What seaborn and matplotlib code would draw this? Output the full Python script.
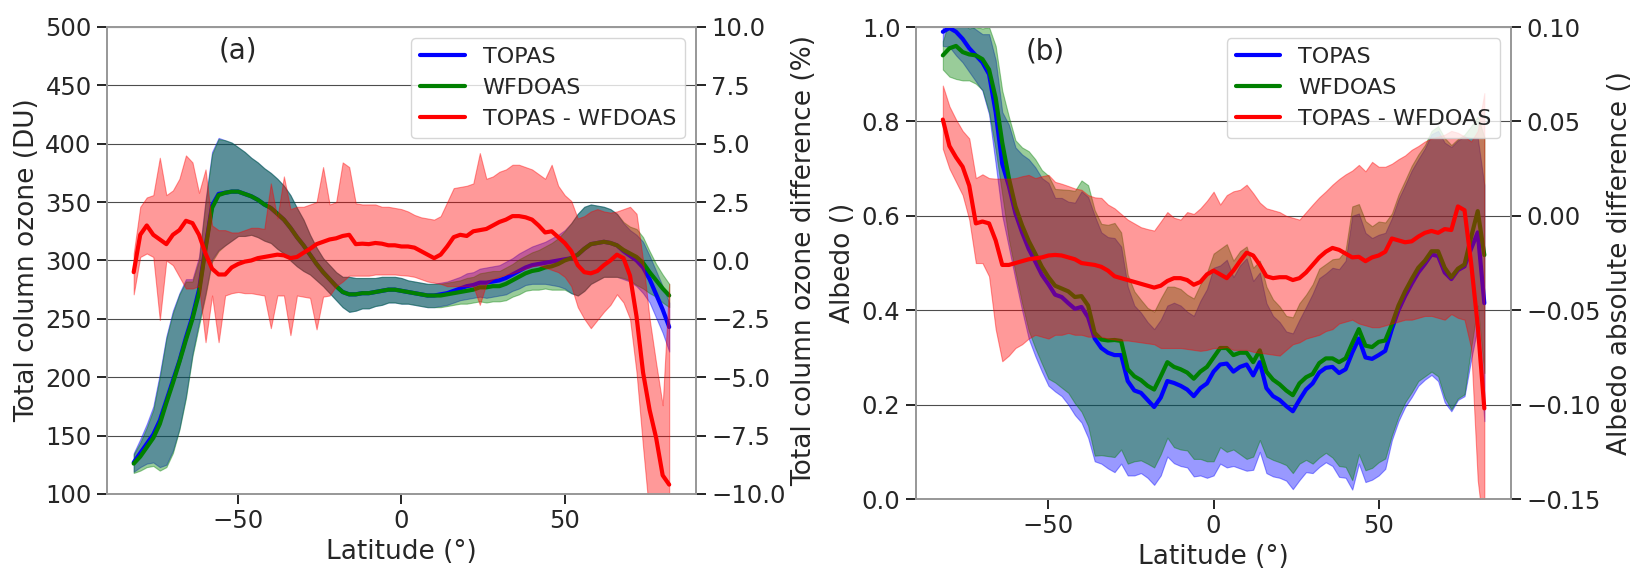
import numpy as np
import matplotlib
matplotlib.use("Agg")
import matplotlib.pyplot as plt
import seaborn as sns

# latitude grid (degrees), 2 deg steps from -82 to 82
lat = np.arange(-82, 83, 2)

# ---- panel (a): total column ozone (DU) and difference (%) ----
oz_topas = [127, 135, 143, 151, 163, 180, 197, 214, 234, 252,
            275, 312, 347, 357, 358, 359, 359, 357, 355, 352,
            348, 345, 340, 335, 328, 320, 313, 305, 297, 290,
            284, 278, 273, 271, 271, 272, 272, 273, 274, 275,
            275, 274, 273, 272, 271, 270, 270, 271, 272, 274,
            276, 278, 279, 281, 281, 282, 283, 285, 288, 291,
            294, 296, 297, 298, 299, 300, 301, 302, 305, 310,
            314, 315, 316, 315, 313, 308, 304, 300, 294, 284,
            271, 258, 243]
oz_wfdoas = [126, 132, 140, 148, 160, 178, 195, 213, 232, 250,
             272, 310, 345, 356, 358, 359, 359, 357, 355, 352,
             348, 345, 340, 335, 328, 320, 313, 305, 297, 290,
             284, 278, 273, 271, 271, 272, 272, 273, 274, 275,
             275, 274, 273, 272, 271, 270, 270, 270, 271, 272,
             273, 274, 275, 277, 277, 278, 278, 280, 283, 286,
             289, 291, 292, 294, 295, 297, 300, 302, 305, 310,
             314, 315, 316, 315, 313, 309, 306, 303, 298, 290,
             283, 276, 270]
oz_std_topas = [8, 12, 17, 24, 40, 55, 60, 58, 50, 32,
                28, 40, 46, 48, 45, 42, 38, 36, 33, 32,
                31, 30, 30, 29, 28, 25, 22, 17, 14, 12,
                12, 12, 13, 15, 14, 13, 13, 12, 12, 11,
                11, 11, 10, 10, 10, 10, 10, 10, 10, 10,
                10, 11, 11, 12, 13, 13, 13, 14, 14, 15,
                15, 16, 17, 18, 20, 22, 25, 30, 35, 36,
                34, 32, 30, 29, 27, 24, 22, 22, 22, 20,
                20, 20, 21]
oz_std_wfdoas = [8, 12, 17, 24, 40, 55, 60, 58, 50, 32,
                 28, 40, 46, 48, 45, 42, 38, 36, 33, 32,
                 31, 30, 30, 29, 28, 25, 22, 17, 14, 12,
                 12, 12, 13, 15, 14, 13, 13, 12, 12, 11,
                 11, 11, 10, 10, 10, 10, 10, 10, 10, 10,
                 10, 11, 11, 12, 13, 13, 13, 14, 14, 15,
                 15, 16, 17, 18, 20, 22, 25, 30, 35, 36,
                 34, 32, 30, 29, 27, 24, 23, 24, 22, 18,
                 14, 12, 10]
oz_diff = [-0.5, 1.1, 1.5, 1.1, 0.9, 0.7, 1.1, 1.3, 1.7, 1.6,
           1.1, 0.3, -0.35, -0.6, -0.6, -0.3, -0.15, -0.05, 0.0, 0.1,
           0.15, 0.2, 0.25, 0.22, 0.1, 0.15, 0.33, 0.5, 0.7, 0.8,
           0.9, 0.95, 1.05, 1.1, 0.7, 0.72, 0.7, 0.75, 0.72, 0.65,
           0.65, 0.6, 0.6, 0.55, 0.4, 0.25, 0.1, 0.25, 0.6, 1.0,
           1.1, 1.05, 1.25, 1.3, 1.35, 1.5, 1.65, 1.75, 1.9, 1.9,
           1.85, 1.75, 1.5, 1.2, 1.25, 1.0, 0.75, 0.4, -0.2, -0.5,
           -0.55, -0.45, -0.2, 0.0, 0.25, 0.1, -0.65, -2.4, -4.8, -6.4,
           -7.6, -9.2, -9.6]
oz_diff_hi = [0.3, 2.3, 2.7, 2.8, 4.4, 2.8, 3.0, 3.5, 4.5, 4.2,
              2.9, 3.9, 1.5, 1.3, 1.3, 1.2, 1.2, 1.3, 1.4, 1.4,
              1.35, 3.3, 1.8, 3.6, 2.2, 2.3, 2.3, 2.4, 2.5, 4.0,
              2.4, 2.5, 4.2, 4.0, 2.45, 2.4, 2.4, 2.4, 2.3, 2.3,
              2.25, 2.2, 2.1, 1.95, 1.85, 1.8, 1.75, 1.9, 2.5, 3.1,
              3.15, 3.2, 3.3, 4.6, 3.5, 3.6, 3.8, 3.9, 4.1, 4.1,
              4.0, 3.9, 3.7, 3.5, 4.1, 3.2, 2.8, 2.55, 1.8, 1.9,
              2.1, 2.2, 2.1, 2.05, 2.1, 2.2, 2.3, 2.0, 0.0, -2.5,
              -4.4, -6.2, -1.0]
oz_diff_lo = [-1.45, 0.15, 0.3, 0.15, -2.55, 0.0, -0.2, -0.7, -1.2, -1.2,
              -1.1, -3.5, -1.5, -3.5, -1.5, -1.4, -1.35, -1.4, -1.4, -1.45,
              -1.5, -2.9, -1.5, -1.5, -3.2, -1.5, -1.55, -1.6, -2.95, -1.55,
              -1.5, -1.1, -0.9, -0.65, -0.65, -0.65, -0.65, -0.6, -0.6, -0.6,
              -0.6, -0.63, -0.65, -0.7, -0.8, -0.9, -0.95, -1.0, -1.1, -1.1,
              -1.1, -1.1, -1.1, -1.9, -1.0, -0.8, -0.7, -0.6, -0.55, -0.45,
              -0.35, -0.25, -0.2, -0.3, -0.4, -0.5, -0.7, -1.1, -2.0, -2.5,
              -2.9, -2.55, -2.2, -1.9, -1.45, -1.8, -2.5, -4.8, -8.0, -11.0,
              -12.0, -13.0, -13.0]

# ---- panel (b): albedo and absolute difference ----
alb_topas = [0.99, 0.998, 0.99, 0.975, 0.955, 0.94, 0.925, 0.9, 0.82, 0.71,
             0.663, 0.605, 0.565, 0.53, 0.503, 0.475, 0.455, 0.433, 0.428, 0.415,
             0.403, 0.407, 0.385, 0.34, 0.32, 0.31, 0.305, 0.305, 0.25, 0.23,
             0.225, 0.21, 0.195, 0.215, 0.25, 0.246, 0.24, 0.232, 0.218, 0.235,
             0.245, 0.27, 0.285, 0.287, 0.27, 0.28, 0.285, 0.262, 0.29, 0.235,
             0.218, 0.21, 0.197, 0.186, 0.21, 0.232, 0.245, 0.268, 0.278, 0.28,
             0.267, 0.275, 0.31, 0.34, 0.3, 0.297, 0.305, 0.314, 0.36, 0.4,
             0.43, 0.456, 0.48, 0.498, 0.518, 0.515, 0.48, 0.466, 0.485, 0.493,
             0.53, 0.565, 0.415]
alb_wfdoas = [0.94, 0.955, 0.96, 0.947, 0.942, 0.94, 0.932, 0.91, 0.85, 0.755,
              0.68, 0.62, 0.58, 0.547, 0.52, 0.492, 0.47, 0.452, 0.446, 0.44,
              0.428, 0.43, 0.41, 0.352, 0.338, 0.336, 0.337, 0.335, 0.275, 0.26,
              0.252, 0.24, 0.232, 0.26, 0.29, 0.28, 0.275, 0.268, 0.255, 0.27,
              0.28, 0.3, 0.32, 0.32, 0.305, 0.31, 0.31, 0.29, 0.315, 0.27,
              0.253, 0.243, 0.23, 0.22, 0.245, 0.258, 0.265, 0.288, 0.298, 0.298,
              0.29, 0.298, 0.33, 0.36, 0.325, 0.322, 0.333, 0.336, 0.37, 0.41,
              0.44, 0.466, 0.49, 0.505, 0.525, 0.525, 0.49, 0.47, 0.488, 0.497,
              0.555, 0.61, 0.517]
alb_std_topas = [0.03, 0.04, 0.05, 0.05, 0.05, 0.055, 0.06, 0.085, 0.11, 0.11,
                 0.13, 0.14, 0.165, 0.19, 0.2, 0.205, 0.215, 0.205, 0.21, 0.215,
                 0.225, 0.245, 0.255, 0.26, 0.245, 0.245, 0.248, 0.23, 0.2, 0.18,
                 0.17, 0.165, 0.165, 0.165, 0.16, 0.17, 0.17, 0.165, 0.17, 0.185,
                 0.2, 0.22, 0.21, 0.22, 0.2, 0.215, 0.225, 0.2, 0.19, 0.18,
                 0.17, 0.165, 0.158, 0.165, 0.17, 0.175, 0.19, 0.2, 0.2, 0.21,
                 0.22, 0.23, 0.29, 0.265, 0.264, 0.256, 0.255, 0.25, 0.235, 0.235,
                 0.235, 0.24, 0.24, 0.245, 0.255, 0.265, 0.275, 0.28, 0.275, 0.275,
                 0.235, 0.2, 0.25]
alb_std_wfdoas = [0.03, 0.06, 0.07, 0.06, 0.055, 0.06, 0.065, 0.09, 0.11, 0.11,
                  0.13, 0.14, 0.165, 0.19, 0.2, 0.205, 0.215, 0.205, 0.21, 0.215,
                  0.225, 0.245, 0.255, 0.26, 0.245, 0.245, 0.248, 0.23, 0.2, 0.18,
                  0.17, 0.165, 0.165, 0.165, 0.16, 0.17, 0.17, 0.165, 0.17, 0.185,
                  0.2, 0.22, 0.21, 0.22, 0.2, 0.215, 0.225, 0.2, 0.19, 0.18,
                  0.17, 0.165, 0.158, 0.165, 0.17, 0.175, 0.19, 0.2, 0.2, 0.21,
                  0.22, 0.23, 0.29, 0.265, 0.264, 0.256, 0.255, 0.25, 0.235, 0.235,
                  0.235, 0.24, 0.24, 0.245, 0.255, 0.265, 0.275, 0.28, 0.275, 0.275,
                  0.235, 0.2, 0.25]
alb_diff = [0.051, 0.037, 0.031, 0.026, 0.016, -0.004, -0.003, -0.004, -0.013, -0.026,
            -0.026, -0.025, -0.024, -0.023, -0.0225, -0.022, -0.021, -0.0207, -0.021, -0.022,
            -0.023, -0.025, -0.0255, -0.026, -0.027, -0.029, -0.032, -0.033, -0.034, -0.035,
            -0.036, -0.037, -0.038, -0.037, -0.0345, -0.033, -0.033, -0.034, -0.0365, -0.035,
            -0.031, -0.029, -0.031, -0.033, -0.029, -0.024, -0.0195, -0.021, -0.026, -0.032,
            -0.033, -0.0325, -0.0325, -0.034, -0.033, -0.03, -0.026, -0.022, -0.019, -0.017,
            -0.018, -0.02, -0.022, -0.0217, -0.024, -0.022, -0.021, -0.019, -0.012, -0.013,
            -0.014, -0.0135, -0.011, -0.009, -0.008, -0.009, -0.007, -0.0075, 0.005, 0.003,
            -0.025, -0.058, -0.102]
alb_diff_hi = [0.069, 0.058, 0.051, 0.045, 0.041, 0.02, 0.022, 0.02, 0.0197, 0.0197,
               0.0197, 0.02, 0.021, 0.0217, 0.02, 0.021, 0.0217, 0.018, 0.017, 0.0158,
               0.0145, 0.0138, 0.011, 0.0098, 0.0095, 0.006, 0.004, 0.001, -0.002, -0.004,
               -0.006, -0.007, -0.0078, -0.003, 0.002, -0.001, -0.002, 0.002, 0.001, 0.004,
               0.008, 0.0128, 0.006, 0.011, 0.013, 0.0138, 0.0165, 0.012, 0.007, 0.004,
               0.003, 0.002, 0.0, -0.001, -0.002, 0.002, 0.006, 0.0098, 0.013, 0.0165,
               0.0195, 0.022, 0.024, 0.027, 0.0236, 0.0286, 0.026, 0.026, 0.0276, 0.03,
               0.032, 0.035, 0.037, 0.0394, 0.041, 0.042, 0.043, 0.045, 0.044, 0.042,
               0.0394, 0.045, 0.065]
alb_diff_lo = [0.0355, 0.025, 0.018, 0.011, -0.002, -0.025, -0.025, -0.032, -0.06, -0.077,
               -0.074, -0.07, -0.068, -0.065, -0.063, -0.064, -0.065, -0.063, -0.063, -0.062,
               -0.063, -0.063, -0.064, -0.064, -0.064, -0.065, -0.0655, -0.066, -0.066, -0.0665,
               -0.067, -0.0675, -0.068, -0.07, -0.07, -0.07, -0.07, -0.0705, -0.071, -0.0715,
               -0.071, -0.07, -0.07, -0.0695, -0.071, -0.071, -0.071, -0.072, -0.0725, -0.073,
               -0.0735, -0.074, -0.071, -0.068, -0.067, -0.065, -0.064, -0.063, -0.061, -0.06,
               -0.057, -0.056, -0.055, -0.057, -0.058, -0.059, -0.059, -0.058, -0.057, -0.056,
               -0.055, -0.055, -0.054, -0.053, -0.053, -0.054, -0.055, -0.052, -0.054, -0.055,
               -0.07, -0.14, -0.17]

TICK_FS = 17.5
LABEL_FS = 19
TAG_FS = 20
LEGEND_FS = 16


def style_axes(ax):
    for sp in ax.spines.values():
        sp.set_color('0.6')
        sp.set_linewidth(1.3)
    ax.tick_params(labelsize=TICK_FS, length=7.5, width=1.2, color='k')


def draw_panel(fig, rect, tp, wf, std_tp, std_wf, diff, diff_lo, diff_hi,
               ylim, yticks, ylim2, yticks2, ylabel, ylabel2, tag, tag_xy):
    ax = fig.add_axes(rect)
    tp = np.array(tp)
    wf = np.array(wf)
    std_tp = np.array(std_tp)
    std_wf = np.array(std_wf)

    # mean +/- std bands, then the mean curves
    ax.fill_between(lat, tp - std_tp, tp + std_tp, color='blue', alpha=0.4, lw=0.8)
    ax.fill_between(lat, wf - std_wf, wf + std_wf, color='green', alpha=0.4, lw=0.8)
    sns.lineplot(x=lat, y=tp, ax=ax, color='blue', lw=3, label='TOPAS', legend=False)
    sns.lineplot(x=lat, y=wf, ax=ax, color='green', lw=3, label='WFDOAS', legend=False)
    ax.set_ylim(*ylim)
    ax.set_yticks(yticks)
    ax.set_xlim(-90.2, 90.2)
    ax.set_xticks([-50, 0, 50])
    ax.yaxis.grid(True, color='0.3', lw=0.8)
    ax.set_xlabel('Latitude (°)', fontsize=LABEL_FS)
    ax.set_ylabel(ylabel, fontsize=LABEL_FS)
    ax.text(tag_xy[0], tag_xy[1], tag, fontsize=TAG_FS, ha='center', va='center')
    style_axes(ax)

    # difference on the secondary axis
    ax2 = ax.twinx()
    ax2.fill_between(lat, diff_lo, diff_hi, color='red', alpha=0.4, lw=0.8)
    sns.lineplot(x=lat, y=diff, ax=ax2, color='red', lw=3,
                 label='TOPAS - WFDOAS', legend=False)
    ax2.set_ylim(*ylim2)
    ax2.set_yticks(yticks2)
    ax2.set_ylabel(ylabel2, fontsize=LABEL_FS)
    style_axes(ax2)

    h1, l1 = ax.get_legend_handles_labels()
    h2, l2 = ax2.get_legend_handles_labels()
    ax2.legend(h1 + h2, l1 + l2, loc='upper right', fontsize=LEGEND_FS)
    return ax, ax2


sns.set_style('ticks')
plt.rcParams['font.family'] = ['DejaVu Sans']

fig = plt.figure(figsize=(16.5, 5.83), dpi=100)

draw_panel(fig, [0.0648, 0.1527, 0.357, 0.801],
           oz_topas, oz_wfdoas, oz_std_topas, oz_std_wfdoas,
           oz_diff, oz_diff_lo, oz_diff_hi,
           (100, 500), np.arange(100, 501, 50), (-10, 10), np.arange(-10, 10.1, 2.5),
           'Total column ozone (DU)', 'Total column ozone difference (%)', '(a)', (-50, 480))

draw_panel(fig, [0.555, 0.144, 0.361, 0.8096],
           alb_topas, alb_wfdoas, alb_std_topas, alb_std_wfdoas,
           alb_diff, alb_diff_lo, alb_diff_hi,
           (0, 1), np.arange(0, 1.01, 0.2), (-0.15, 0.10), np.arange(-0.15, 0.101, 0.05),
           'Albedo ()', 'Albedo absolute difference ()', '(b)', (-51, 0.948))

fig.savefig('out.png', dpi=100)
